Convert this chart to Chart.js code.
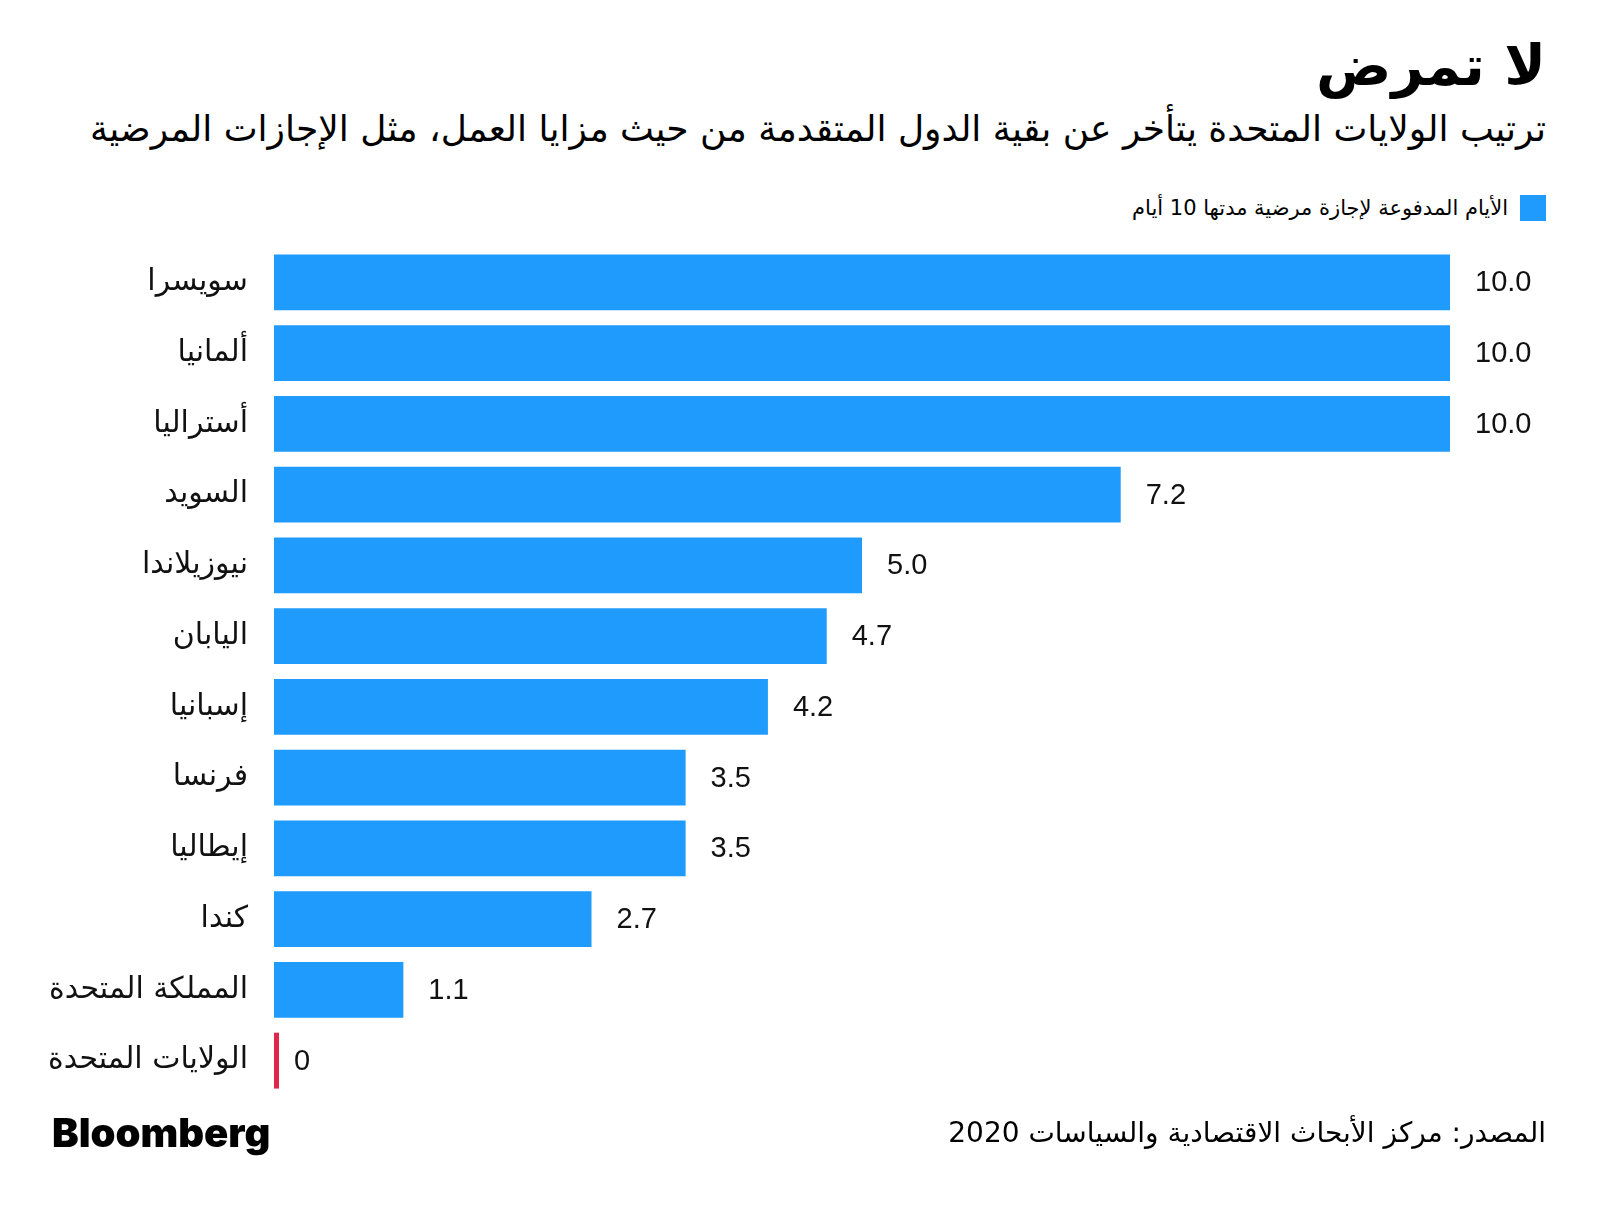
<!DOCTYPE html>
<html lang="ar">
<head>
<meta charset="utf-8">
<title>لا تمرض</title>
<script src="https://cdn.jsdelivr.net/npm/chart.js@4"></script>
<style>
  body { margin: 0; background: #fff; }
  #page { position: relative; width: 1600px; height: 1211px; overflow: hidden; font-family: "DejaVu Sans", sans-serif; color: #000; }
  .rt { position: absolute; right: 54px; direction: rtl; white-space: nowrap; }
  #title { top: 32px; font-size: 56px; font-weight: bold; line-height: 1.2; }
  #subtitle { top: 106px; font-size: 36px; line-height: 1.3; }
  #legend { top: 195px; font-size: 21px; line-height: 26px; display: flex; align-items: center; }
  #legend .sw { width: 26px; height: 26px; background: #1f9bfd; margin-left: 12px; }
  #source { top: 1115px; font-size: 28px; line-height: 1.3; }
  #logo { position: absolute; left: 52px; top: 1108px; font-family: "Inter", "Liberation Sans", sans-serif; font-weight: 900; font-size: 40px; letter-spacing: 0px; }
  #chartBox { position: absolute; left: 0; top: 0; width: 1600px; height: 1211px; }
</style>
</head>
<body>
<div id="page">
  <div id="title" class="rt">لا تمرض</div>
  <div id="subtitle" class="rt">ترتيب الولايات المتحدة يتأخر عن بقية الدول المتقدمة من حيث مزايا العمل، مثل الإجازات المرضية</div>
  <div id="legend" class="rt"><span class="sw"></span><span>الأيام المدفوعة لإجازة مرضية مدتها 10 أيام</span></div>
  <div id="chartBox"><canvas id="myChart"></canvas></div>
  <div id="source" class="rt">المصدر: مركز الأبحاث الاقتصادية والسياسات 2020</div>
  <div id="logo">Bloomberg</div>
</div>
<script>
// data
const countries = ['سويسرا', 'ألمانيا', 'أستراليا', 'السويد', 'نيوزيلاندا', 'اليابان', 'إسبانيا', 'فرنسا', 'إيطاليا', 'كندا', 'المملكة المتحدة', 'الولايات المتحدة'];
const paidDays = [10, 10, 10, 7.2, 5.0, 4.7, 4.2, 3.5, 3.5, 2.7, 1.1, 0];
const highlight = 'الولايات المتحدة';

const blue = '#1f9bfd';
const red = '#e0264b';

// value labels to the right of each bar
const valueLabels = {
  id: 'valueLabels',
  afterDatasetsDraw(chart) {
    const ctx = chart.ctx;
    const meta = chart.getDatasetMeta(0);
    ctx.save();
    ctx.font = '29px "Liberation Sans", sans-serif';
    ctx.fillStyle = '#111';
    ctx.textAlign = 'left';
    ctx.textBaseline = 'middle';
    meta.data.forEach((bar, i) => {
      const v = paidDays[i];
      const txt = v === 0 ? '0' : v.toFixed(1);
      const x = v === 0 ? bar.base + 20 : bar.x + 25;
      ctx.fillText(txt, x, bar.y + 1);
    });
    ctx.restore();
  }
};

const ctx = document.getElementById('myChart').getContext('2d');
const myChart = new Chart(ctx, {
  type: 'bar',
  data: {
    labels: countries,
    datasets: [{
      label: 'الأيام المدفوعة لإجازة مرضية مدتها 10 أيام',
      data: paidDays,
      backgroundColor: countries.map(c => c === highlight ? red : blue),
      borderWidth: 0,
      minBarLength: 5,
      barPercentage: 0.79,
      categoryPercentage: 1,
    }],
  },
  options: {
    indexAxis: 'y',
    responsive: true,
    maintainAspectRatio: false,
    animation: false,
    layout: { padding: { top: 247, bottom: 115, left: 0, right: 150 } },
    plugins: {
      legend: { display: false },
      tooltip: { enabled: false },
    },
    scales: {
      x: {
        min: 0,
        max: 10,
        display: false,
      },
      y: {
        grid: { display: false, drawTicks: false },
        border: { display: false },
        afterFit: (scale) => { scale.width = 274; },
        ticks: {
          padding: 26,
          color: '#111',
          font: { family: '"DejaVu Sans", sans-serif', size: 30 },
        },
      },
    },
  },
  plugins: [valueLabels],
});
</script>
</body>
</html>
